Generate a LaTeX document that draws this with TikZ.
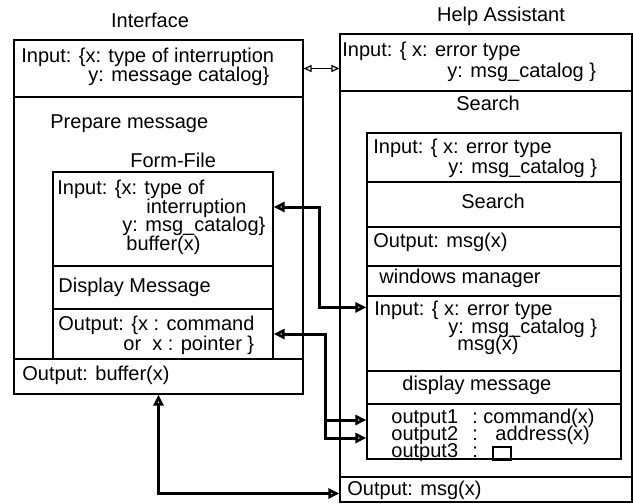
\documentclass[tikz,border=0pt]{standalone}
\usepackage{fontspec}
\setmainfont{Liberation Sans}
\usetikzlibrary{fit,arrows.meta}

\tikzset{
  cell/.style = {draw = black, line width = 0.6pt, inner sep = 0pt},
  txt/.style = {anchor = base west, inner sep = 0pt, font = \fontsize{10}{12}\selectfont},
  ctxt/.style = {txt, anchor = base},
  link/.style = {line width = 1.5pt,
    arrows = {Triangle[open, length = 5.5pt, width = 5pt]-Triangle[open, length = 5.5pt, width = 5pt]}},
  thinlink/.style = {line width = 0.6pt,
    arrows = {Triangle[open, length = 4pt, width = 3.5pt]-Triangle[open, length = 4pt, width = 3.5pt]}}
}

\begin{document}
\begin{tikzpicture}[x=0.5pt, y=-0.5pt]

    \useasboundingbox (0,0) rectangle (633,504);

    % Interface
    \node[cell, fit = {(14,40) (303,97)}] (lin) {};
    \node[cell, fit = {(14,97) (303,359)}] (lbody) {};
    \node[cell, fit = {(14,359) (303,394)}] (lout) {};

    \node[cell, fit = {(53,172) (273,266)}] (ffin) {};
    \node[cell, fit = {(53,266) (273,309)}] (ffdisp) {};
    \node[cell, fit = {(53,309) (273,359)}] (ffout) {};

    % Help Assistant
    \node[cell, fit = {(340,34) (632,91)}] (rin) {};
    \node[cell, fit = {(340,91) (632,477)}] (rbody) {};
    \node[cell, fit = {(340,477) (632,502)}] (rout) {};

    \node[cell, fit = {(367,133) (621,182)}] (sin) {};
    \node[cell, fit = {(367,182) (621,227)}] (ssearch) {};
    \node[cell, fit = {(367,227) (621,266)}] (sout) {};
    \node[cell, fit = {(367,266) (621,296)}] (wman) {};
    \node[cell, fit = {(367,296) (621,371)}] (win) {};
    \node[cell, fit = {(367,371) (621,404)}] (wdisp) {};
    \node[cell, fit = {(367,404) (621,459)}] (wout) {};


    \node[ctxt] (ltitle) at (150,27) {Interface};
    \node[ctxt] (rtitle) at (501,21) {Help Assistant};

    \node[txt] (lin1) at (21,62) {Input: \{x: type of interruption};
    \node[txt] (lin2) at (88,81) {y: message catalog\}};
    \node[txt] (prep) at (50,128) {Prepare message};
    \node[txt] (fftitle) at (130,167) {Form-File};

    \node[txt] (ffin1) at (57,194) {Input: \{x: type of};
    \node[txt] (ffin2) at (146,213) {interruption};
    \node[txt] (ffin3) at (122,231) {y: msg\_catalog\}};
    \node[txt] (ffin4) at (126,250) {buffer(x)};
    \node[txt] (ffdisp1) at (58,292) {Display Message};
    \node[txt] (ffout1) at (58,330) {Output: \{x : command};
    \node[txt] (ffout2) at (123,350) {or\ \ x : pointer \}};
    \node[txt] (lout1) at (22,380) {Output: buffer(x)};

    \node[txt] (rin1) at (342,56) {Input: \{ x: error type};
    \node[txt] (rin2) at (447,77) {y: msg\_catalog \}};
    \node[ctxt] (search) at (488,110) {Search};

    \node[txt] (sin1) at (373,153) {Input: \{ x: error type};
    \node[txt] (sin2) at (448,173) {y: msg\_catalog \}};
    \node[ctxt] (ssearch1) at (493,208) {Search};
    \node[txt] (sout1) at (373,247) {Output: msg(x)};
    \node[txt] (wman1) at (379,283) {windows manager};
    \node[txt] (win1) at (374,315) {Input: \{ x: error type};
    \node[txt] (win2) at (448,333) {y: msg\_catalog \}};
    \node[txt] (win3) at (457,350) {msg(x)};
    \node[txt] (wdisp1) at (402,390) {display message};

    \node[txt] (o1) at (391,423) {output1};
    \node[txt] (o2) at (391,440) {output2};
    \node[txt] (o3) at (391,457) {output3};
    \node[txt] (c1) at (472,423) {:};
    \node[txt] (c2) at (472,440) {:};
    \node[txt] (c3) at (472,457) {:};
    \node[txt] (v1) at (483,423) {command(x)};
    \node[txt] (v2) at (495,440) {address(x)};
    \node[cell, fit = {(493,447) (511,460)}] (v3) {};

    \node[txt] (rout1) at (347,495) {Output: msg(x)};


      \draw[thinlink] (lin.east) -- (lin.east -| rin.west);

      \draw[link] ([yshift=6pt]ffin.east) -- ++(23pt,0) |- ([yshift=-6pt]win.north west);

      \draw[link] (ffout.east) -- ++(26pt,0) coordinate (j3) |- ([yshift=-3.25pt]wout.west);
      \draw[link, arrows = -{Triangle[open, length = 5.5pt, width = 5pt]}] (j3) |- ([yshift=5.75pt]wout.west);

      \draw[link] (lout.south) |- ([yshift=-2pt]rout.west);
  \end{tikzpicture}
\end{document}
